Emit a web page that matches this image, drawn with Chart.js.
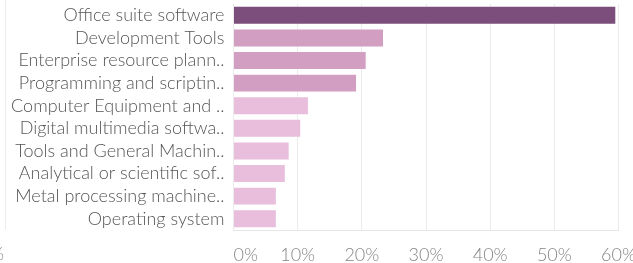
<!DOCTYPE html>
<html>
<head>
<meta charset="utf-8">
<script src="https://cdn.jsdelivr.net/npm/chart.js@4.4.1/dist/chart.umd.min.js"></script>
<style>
html,body{margin:0;padding:0;background:#fff;}
#wrap{width:633px;height:263px;position:relative;}
</style>
</head>
<body>
<div id="wrap"><canvas id="c" width="633" height="263"></canvas></div>
<script>
const categories = [
  "Office suite software",
  "Development Tools",
  "Enterprise resource plann..",
  "Programming and scriptin..",
  "Computer Equipment and ..",
  "Digital multimedia softwa..",
  "Tools and General Machin..",
  "Analytical or scientific sof..",
  "Metal processing machine..",
  "Operating system"
];
const shares = [59.5, 23.3, 20.6, 19.1, 11.6, 10.4, 8.6, 8.0, 6.6, 6.6];
const barColors = ["#7b4e7b", "#d29ec2", "#d29ec2", "#d29ec2", "#e8bedc", "#e8bedc", "#e8bedc", "#e8bedc", "#e8bedc", "#e8bedc"];
const xTickValues = [0, 10, 20, 30, 40, 50, 60];
const xTickLabels = ["     0%", "10%", "20%", "30%", "40%", "50%", "60%"];

const FONT = "Lato, 'Open Sans', sans-serif";

const edgePlugin = {
  id: 'edge',
  afterDraw(chart) {
    const ctx = chart.ctx;
    const area = chart.chartArea;
    ctx.save();
    ctx.strokeStyle = '#ececec';
    ctx.lineWidth = 1;
    ctx.beginPath();
    ctx.moveTo(5.5, 0);
    ctx.lineTo(5.5, area.bottom);
    ctx.stroke();
    ctx.fillStyle = '#8a8a8a';
    ctx.font = "300 18px " + FONT;
    ctx.textAlign = 'right';
    ctx.textBaseline = 'middle';
    ctx.fillText("60%", 4, 254);
    ctx.restore();
  }
};

new Chart(document.getElementById('c'), {
  type: 'bar',
  data: {
    labels: categories,
    datasets: [{
      data: shares,
      backgroundColor: barColors,
      borderWidth: 0,
      barPercentage: 0.75,
      categoryPercentage: 1.0
    }]
  },
  options: {
    indexAxis: 'y',
    responsive: false,
    animation: false,
    layout: { padding: { top: 4, right: 14.5, left: 0, bottom: 0 } },
    plugins: { legend: { display: false }, tooltip: { enabled: false } },
    scales: {
      x: {
        min: 0, max: 60,
        afterBuildTicks: s => { s.ticks = xTickValues.map(v => ({ value: v })); },
        afterFit: s => { s.height = 33; s.paddingLeft = 0; s.paddingRight = 0; },
        grid: { color: '#ebebeb', drawTicks: false },
        border: { display: true, color: '#e6e6e6' },
        ticks: {
          padding: 14,
          color: '#858585',
          font: { family: FONT, size: 18, weight: '300' },
          maxRotation: 0,
          autoSkip: false,
          callback: (v, i) => xTickLabels[i]
        }
      },
      y: {
        afterFit: s => { s.width = 233.5; s.paddingTop = 0; s.paddingBottom = 0; },
        grid: { display: false, drawTicks: false },
        border: { display: false },
        ticks: {
          padding: 9,
          color: '#555555',
          font: { family: FONT, size: 18, weight: '300' },
          autoSkip: false
        }
      }
    }
  },
  plugins: [edgePlugin]
});
</script>
</body>
</html>
